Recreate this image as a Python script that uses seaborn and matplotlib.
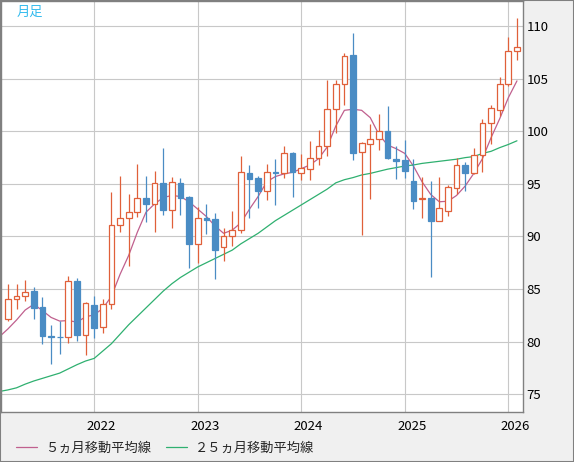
import matplotlib
matplotlib.use("Agg")
import matplotlib.pyplot as plt
import matplotlib.transforms as mtransforms
from matplotlib.patches import Rectangle
import numpy as np
import pandas as pd
import seaborn as sns

# monthly candles, Mar 2021 .. Feb 2026
opens = [82.12, 84.02, 84.31, 84.84, 83.32, 80.56, 80.48, 80.41, 85.76, 80.66,
         83.45, 81.36, 83.55, 91.06, 91.72, 92.29, 93.65, 93.08, 95.08, 92.54,
         95.08, 93.77, 89.31, 91.75, 91.65, 88.96, 90.01, 90.58, 96.03, 95.52,
         94.29, 96.12, 96.00, 97.96, 96.00, 96.45, 97.42, 98.56, 102.08, 104.55,
         107.24, 98.02, 98.75, 99.23, 100.02, 97.36, 97.26, 95.27, 93.57, 93.65,
         91.49, 92.44, 94.63, 96.79, 96.03, 97.74, 100.75, 102.02, 104.55, 107.60]
highs = [85.48, 85.48, 85.86, 85.16, 84.24, 81.58, 81.99, 86.24, 86.02, 83.76,
         84.31, 84.05, 94.25, 95.74, 94.00, 96.88, 95.74, 96.22, 98.43, 95.67,
         95.58, 93.84, 92.80, 93.08, 92.20, 90.80, 92.41, 97.64, 96.79, 95.74,
         96.88, 97.33, 98.62, 98.05, 97.80, 99.07, 100.11, 104.87, 104.87, 107.43,
         109.36, 98.97, 100.68, 101.63, 102.40, 98.64, 99.14, 97.36, 95.65, 95.27,
         95.67, 94.89, 97.45, 97.10, 98.43, 101.13, 102.49, 105.15, 108.95, 110.79]
lows = [82.00, 83.07, 83.89, 82.12, 79.80, 77.90, 78.82, 79.90, 80.09, 78.75,
        80.37, 80.85, 83.07, 90.39, 87.22, 91.87, 91.40, 90.45, 92.03, 90.83,
        92.06, 86.97, 87.44, 90.20, 85.98, 87.63, 89.09, 90.29, 91.78, 92.73,
        93.46, 93.01, 95.58, 93.77, 95.36, 95.41, 96.83, 97.64, 99.86, 102.49,
        97.29, 90.16, 93.58, 98.21, 97.39, 95.48, 95.53, 92.63, 91.80, 86.11,
        91.45, 91.97, 94.00, 94.34, 95.90, 96.15, 98.75, 101.44, 104.30, 106.77]
closes = [84.05, 84.31, 84.69, 83.22, 80.56, 80.41, 80.39, 85.76, 80.63, 83.64,
          81.32, 83.55, 91.09, 91.72, 92.29, 93.62, 93.11, 95.05, 92.54, 95.14,
          93.68, 89.31, 91.72, 91.56, 88.74, 90.07, 90.58, 96.09, 95.48, 94.29,
          96.09, 96.03, 97.90, 96.09, 96.47, 97.42, 98.56, 102.08, 104.55, 107.21,
          97.96, 98.85, 99.23, 99.99, 97.48, 97.17, 96.25, 93.38, 93.63, 91.49,
          92.67, 94.67, 96.79, 96.03, 97.74, 100.75, 102.18, 104.55, 107.69, 108.00]

# moving averages as drawn, Feb 2021 .. Feb 2026
ma5 = [80.45, 81.2, 82.05, 83.0, 83.55, 82.95, 82.3, 81.95, 82.0, 81.85,
       82.35, 82.55, 83.15, 84.3, 86.4, 88.2, 90.4, 92.3, 93.1, 93.7,
       93.9, 93.8, 93.3, 92.6, 91.9, 91.0, 90.3, 90.6, 91.3, 92.6,
       93.8, 95.2, 95.7, 95.95, 96.1, 96.45, 96.8, 97.4, 98.5, 100.5,
       102.0, 102.1, 102.0, 101.3, 99.7, 98.7, 98.35, 97.9, 96.7, 95.2,
       94.0, 93.3, 93.35, 93.9, 94.8, 96.0, 97.4, 99.4, 101.2, 103.2, 104.8]
ma25 = [75.25, 75.4, 75.6, 75.95, 76.25, 76.5, 76.75, 77.0, 77.4, 77.8,
        78.15, 78.4, 79.1, 79.8, 80.7, 81.6, 82.4, 83.2, 84.0, 84.8,
        85.5, 86.1, 86.6, 87.1, 87.5, 87.9, 88.3, 88.7, 89.3, 89.8,
        90.3, 90.9, 91.5, 92.0, 92.5, 93.0, 93.5, 94.0, 94.5, 95.1,
        95.4, 95.6, 95.85, 96.0, 96.2, 96.4, 96.55, 96.7, 96.8, 96.95,
        97.05, 97.15, 97.25, 97.35, 97.5, 97.6, 97.9, 98.1, 98.45, 98.75, 99.1]

ma5_label = "５ヵ月移動平均線"
ma25_label = "２５ヵ月移動平均線"
up_color = "#e0603a"
down_color = "#4a8cc4"

months = pd.date_range("2021-03-01", periods=len(closes), freq="MS")
candles = pd.DataFrame({"month": months, "open": opens, "high": highs,
                        "low": lows, "close": closes})
candles["pos"] = np.arange(len(candles))
candles["up"] = candles["close"] >= candles["open"]

# MA series start one month before the first candle
ma = pd.DataFrame({"pos": np.arange(len(ma5)) - 1, "ma5": ma5, "ma25": ma25})

sns.set_theme(style="white")
plt.rcParams["font.family"] = ["Noto Sans CJK JP", "DejaVu Sans"]

fig = plt.figure(figsize=(5.74, 4.62), dpi=100)
fig.patch.set_facecolor("#f0f0f0")
ax = fig.add_axes([1 / 574, 50 / 462, 522 / 574, 411 / 462])
ax.set_facecolor("white")

# moving averages
sns.lineplot(data=ma, x="pos", y="ma5", ax=ax, color="#c0608e", linewidth=0.9,
             zorder=2, label=ma5_label)
sns.lineplot(data=ma, x="pos", y="ma25", ax=ax, color="#2fb070", linewidth=0.9,
             zorder=2, label=ma25_label)

# candles
cols = np.where(candles["up"], up_color, down_color)
fills = np.where(candles["up"], "white", down_color)
ax.vlines(candles["pos"], candles["low"], candles["high"], colors=cols,
          linewidth=0.9, zorder=3)
body_low = candles[["open", "close"]].min(axis=1)
body_h = (candles["close"] - candles["open"]).abs()
ax.bar(candles["pos"], body_h, bottom=body_low, width=0.66, color=fills,
       edgecolor=cols, linewidth=0.9, zorder=4)

ax.set_xlim(-0.8, 59.7)
ax.set_ylim(73.3, 112.4)

jan = candles["month"].dt.month == 1
ax.set_xticks(candles.loc[jan, "pos"].tolist())
ax.set_xticklabels(candles.loc[jan, "month"].dt.year.astype(str).tolist())
ax.set_yticks(np.arange(75, 111, 5))
ax.yaxis.tick_right()
ax.tick_params(axis="both", length=0, labelsize=9.5, colors="#000000")
ax.tick_params(axis="x", pad=6)
ax.tick_params(axis="y", pad=2.5)
shift = mtransforms.ScaledTranslation(7 / 100, 0, fig.dpi_scale_trans)
for lab in ax.get_xticklabels():
    lab.set_transform(lab.get_transform() + shift)
for lab in ax.get_yticklabels():
    lab.set_horizontalalignment("left")

ax.grid(True, color="#c8c8c8", linewidth=0.8)
ax.set_axisbelow(True)
ax.set_xlabel("")
ax.set_ylabel("")
for sp in ax.spines.values():
    sp.set_color("#808080")
    sp.set_linewidth(1)

ax.text(16 / 522, 1 - 11 / 411, "月足", transform=ax.transAxes, color="#33bbee",
        fontsize=9.5, va="center", ha="left")

handles, labels = ax.get_legend_handles_labels()
ax.get_legend().remove()
fig.legend(handles, labels, loc="center left", bbox_to_anchor=(16 / 574, 14 / 462),
           ncol=2, frameon=False, fontsize=9.5, handlelength=1.6,
           handletextpad=0.6, columnspacing=1.1, borderpad=0, borderaxespad=0)

fig.add_artist(Rectangle((0, 0), 1, 1, transform=fig.transFigure, fill=False,
                         edgecolor="#808080", linewidth=1.5))

fig.savefig("out.png", dpi=100, facecolor=fig.get_facecolor())
